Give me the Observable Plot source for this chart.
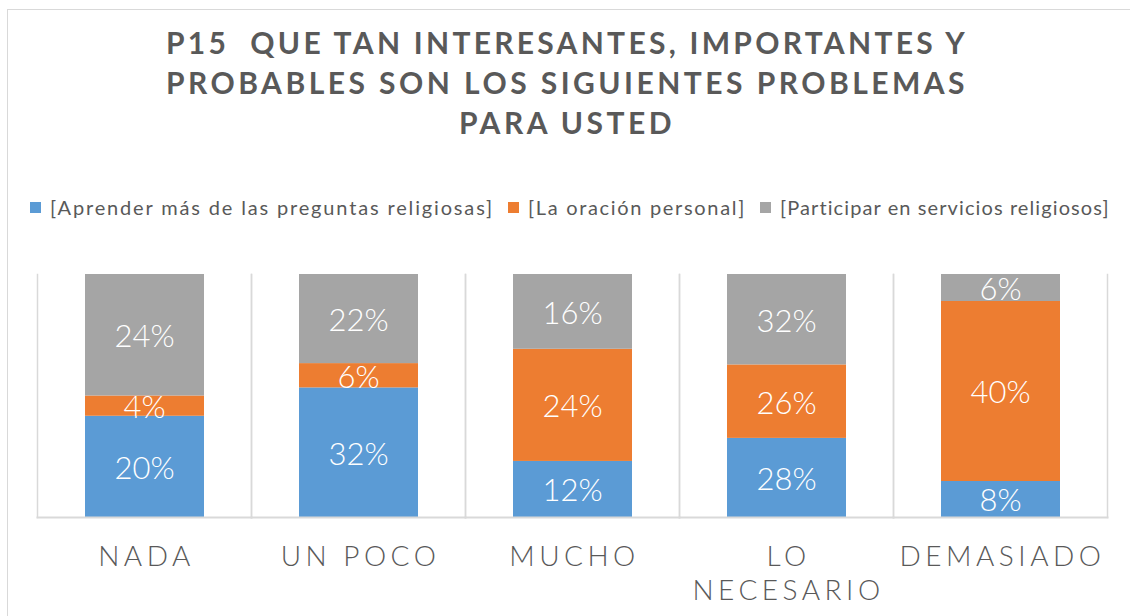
<!DOCTYPE html>
<html><head><meta charset="utf-8">
<script src="https://cdn.jsdelivr.net/npm/d3@7"></script>
<script src="https://cdn.jsdelivr.net/npm/@observablehq/plot@0.6"></script>
<style>
body{margin:0;background:#fff;}
#wrap{position:relative;width:1130px;height:616px;overflow:hidden;font-family:Lato,"Open Sans",sans-serif;}
#border{position:absolute;left:7px;top:9px;width:1140px;height:700px;border:1.5px solid #d9d9d9;box-sizing:border-box;}
#title{position:absolute;left:0;top:22px;width:1134px;text-align:center;color:#595959;font-weight:700;font-size:30px;line-height:40px;}
#title span{display:inline-block;white-space:pre;}
#legend{position:absolute;left:30px;top:195px;height:24px;display:flex;align-items:center;color:#595959;font-size:20px;white-space:nowrap;}
#legend .sw{width:11px;height:11px;margin-right:9px;flex:none;}
#legend .lab{margin-right:14px;display:inline-block;}
#chart{position:absolute;left:0;top:264px;}
#chart svg [aria-label="fx-axis tick label"] text{letter-spacing:4.5px;}
</style></head>
<body><div id="wrap"><div id="border"></div><div id="title"></div><div id="legend"></div><div id="chart"></div></div>
<script>
const categories = ["NADA","UN POCO","MUCHO","LO NECESARIO","DEMASIADO"];
const tickLabels = ["NADA","UN POCO","MUCHO","LO\nNECESARIO","DEMASIADO"];
const series = ["[Aprender más de las preguntas religiosas]","[La oración personal]","[Participar en servicios religiosos]"];
const aprender = [20,32,12,28,8];
const oracion = [4,6,24,26,40];
const participar = [24,22,16,32,6];
const colors = ["#5B9BD5","#ED7D31","#A5A5A5"];
const titleLines = ["P15  QUE TAN INTERESANTES, IMPORTANTES Y","PROBABLES SON LOS SIGUIENTES PROBLEMAS","PARA USTED"];

const values = [aprender, oracion, participar];
const data = series.flatMap((s,i)=>categories.map((c,j)=>({category:c, series:s, value:values[i][j]})));

const titleEl = document.getElementById("title");
titleLines.forEach((t,i)=>{
  const s=document.createElement("span"); s.textContent=t; titleEl.appendChild(s);
  titleEl.appendChild(document.createElement("br"));
});
const legendEl = document.getElementById("legend");
const legendWidths = [444, 218, 330];
series.forEach((s,i)=>{
  const sw=document.createElement("div"); sw.className="sw"; sw.style.background=colors[i];
  const lab=document.createElement("span"); lab.className="lab"; lab.textContent=s;
  legendEl.appendChild(sw); legendEl.appendChild(lab);
});
function fit(el, w){
  el.style.letterSpacing="0px";
  const cur=el.getBoundingClientRect().width;
  const n=el.textContent.length;
  el.style.letterSpacing=((w-cur)/n)+"px";
}
const spans=[...titleEl.querySelectorAll("span")];
fit(spans[0],802); fit(spans[1],802);
spans[2].style.letterSpacing=spans[1].style.letterSpacing;
[...legendEl.querySelectorAll(".lab")].forEach((el,i)=>fit(el,legendWidths[i]));

const plot = Plot.plot({
  width:1130, height:352,
  marginLeft:36, marginRight:23, marginTop:10, marginBottom:99,
  fx:{domain:categories, padding:0, label:null},
  y:{axis:null, domain:[0,1]},
  color:{domain:series, range:colors},
  style:{fontFamily:"Lato, 'Open Sans', sans-serif", background:"transparent"},
  marks:[
    Plot.barY(data, Plot.stackY({fx:"category", y:"value", fill:"series", offset:"normalize", insetLeft:48, insetRight:47})),
    Plot.text(data, Plot.stackY({fx:"category", y:"value", z:"series", offset:"normalize", text:d=>d.value+"%", fill:"white", fontSize:31, fontWeight:300, dy:2})),
    Plot.frame({anchor:"left", stroke:"#d9d9d9", strokeWidth:1.5}),
    Plot.frame({anchor:"right", stroke:"#d9d9d9", strokeWidth:1.5}),
    Plot.frame({anchor:"bottom", stroke:"#d9d9d9", strokeWidth:2}),
    Plot.axisFx({anchor:"bottom", tickSize:0, tickPadding:25, fontSize:28, fontWeight:300, lineHeight:1.2, fill:"#595959", dx:2,
      tickFormat:d=>tickLabels[categories.indexOf(d)], label:null})
  ]
});
document.getElementById("chart").appendChild(plot);
</script></body></html>
